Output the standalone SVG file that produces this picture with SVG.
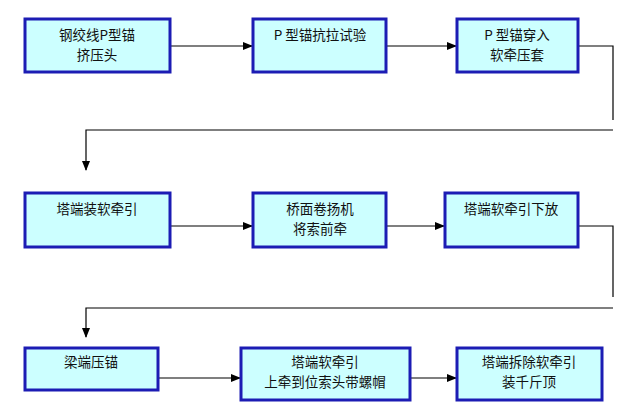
<svg xmlns="http://www.w3.org/2000/svg" width="640" height="416" viewBox="0 0 640 416">
<defs>
<style>
.box{fill:#CCFFFF;stroke:#1C1CB4;stroke-width:3}
.t{font-family:"Noto Sans CJK SC","DejaVu Sans",sans-serif;font-size:13.5px;fill:#111;text-anchor:middle;dominant-baseline:central}
.c{fill:none;stroke:#000;stroke-width:1.2}
</style>
<marker id="ah" markerWidth="10" markerHeight="8" refX="9" refY="4" orient="auto" markerUnits="userSpaceOnUse">
<path d="M0,0 L10,4 L0,8 Z" fill="#000"/>
</marker>
</defs>
<rect width="640" height="416" fill="#fff"/>
<g id="connectors">
<line class="c" x1="170" y1="46" x2="252" y2="46" marker-end="url(#ah)"/>
<line class="c" x1="386" y1="46" x2="456" y2="46" marker-end="url(#ah)"/>
<polyline class="c" points="578,46 613,46 613,120"/>
<polyline class="c" points="613,130 86,130 86,170" marker-end="url(#ah)"/>
<line class="c" x1="170" y1="226" x2="252" y2="226" marker-end="url(#ah)"/>
<line class="c" x1="386" y1="226" x2="444" y2="226" marker-end="url(#ah)"/>
<polyline class="c" points="578,226 613,226 613,297"/>
<polyline class="c" points="613,308 86,308 86,337" marker-end="url(#ah)"/>
<line class="c" x1="158" y1="378" x2="240" y2="378" marker-end="url(#ah)"/>
<line class="c" x1="410" y1="378" x2="456" y2="378" marker-end="url(#ah)"/>
</g>
<g id="n1"><rect class="box" x="25" y="19" width="145" height="53"/><text class="t" x="97" y="34">钢绞线P型锚</text><text class="t" x="97" y="54">挤压头</text></g>
<g id="n2"><rect class="box" x="253" y="19" width="133" height="53"/><text class="t" x="320" y="34">P 型锚抗拉试验</text></g>
<g id="n3"><rect class="box" x="457" y="19" width="121" height="53"/><text class="t" x="517" y="34">P 型锚穿入</text><text class="t" x="517" y="54">软牵压套</text></g>
<g id="n4"><rect class="box" x="25" y="193" width="145" height="54"/><text class="t" x="97" y="208">塔端装软牵引</text></g>
<g id="n5"><rect class="box" x="253" y="193" width="133" height="54"/><text class="t" x="320" y="208">桥面卷扬机</text><text class="t" x="320" y="228">将索前牵</text></g>
<g id="n6"><rect class="box" x="445" y="193" width="133" height="54"/><text class="t" x="511" y="208">塔端软牵引下放</text></g>
<g id="n7"><rect class="box" x="25" y="348" width="133" height="42"/><text class="t" x="91" y="361">梁端压锚</text></g>
<g id="n8"><rect class="box" x="241" y="348" width="169" height="52"/><text class="t" x="325" y="361">塔端软牵引</text><text class="t" x="325" y="381">上牵到位索头带螺帽</text></g>
<g id="n9"><rect class="box" x="457" y="348" width="145" height="52"/><text class="t" x="529" y="361">塔端拆除软牵引</text><text class="t" x="529" y="381">装千斤顶</text></g>
</svg>
